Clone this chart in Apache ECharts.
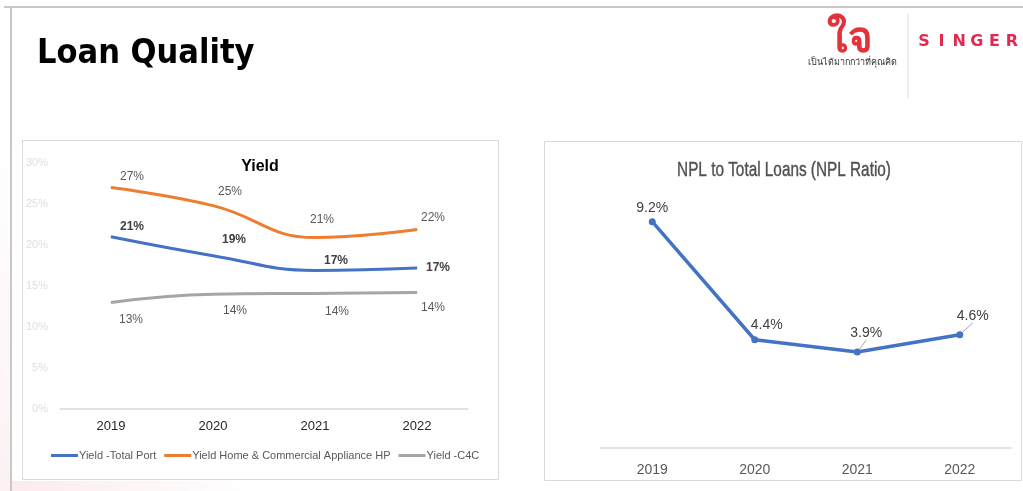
<!DOCTYPE html>
<html>
<head>
<meta charset="utf-8">
<title>Loan Quality</title>
<script src="https://cdn.jsdelivr.net/npm/echarts@6/dist/echarts.min.js"></script>
<style>
  html, body { margin: 0; padding: 0; background: #ffffff; }
  #chart { width: 1023px; height: 491px; }
</style>
</head>
<body>
<div id="chart"></div>
<script>
// Loan quality dashboard: yield by portfolio (left) and NPL ratio (right)
const years = ['2019', '2020', '2021', '2022'];

// Yield by portfolio, in percent
const yieldTotalPort = [21.0, 18.7, 16.9, 17.2];
const yieldHomeCommercialHP = [27.0, 24.8, 20.9, 21.9];
const yieldC4C = [13.0, 14.0, 14.1, 14.2];

// NPL to total loans, in percent
const nplRatio = [9.2, 4.4, 3.9, 4.6];

const yieldTicks = [0, 5, 10, 15, 20, 25, 30];

const SANS = '"Liberation Sans", Arial, sans-serif';
const BLUE = '#4472C4', ORANGE = '#ED7D31', GREY = '#A5A5A5';

// label offsets (label centre relative to the point) for each series
const offTotal = [[21, -10], [21, -16], [21, -10], [21, 0]];
const offHP = [[21, -11], [17, -14], [7, -18], [16, -12]];
const offC4C = [[20, 17], [22, 16], [22, 18], [16, 15]];
const offNpl = [[0, -14], [12, -15], [9, -19], [13, -19]];

function pct(v) { return Math.round(v) + '%'; }

function labelled(values, offsets, style) {
  return values.map((v, i) => ({
    value: v,
    label: Object.assign({ show: true, position: 'inside', offset: offsets[i],
      fontFamily: SANS, formatter: p => pct(p.value) }, style)
  }));
}

const chart = echarts.init(document.getElementById('chart'), null, { renderer: 'canvas' });

// brand word, one letter per evenly spaced cell
const singerLetters = 'SINGER'.split('').map((ch, i) => ({
  type: 'text', x: 924 + i * 17.6, y: 42,
  style: { text: ch, font: 'bold 16px "DejaVu Sans", sans-serif', fill: '#E02A52',
    textAlign: 'center', textVerticalAlign: 'middle' }
}));

const option = {
  backgroundColor: '#ffffff',
  animation: false,
  textStyle: { fontFamily: SANS },
  graphic: [
    // faint decorative band of the slide template
    { type: 'rect', shape: { x: 0, y: 140, width: 11, height: 351 },
      style: { fill: new echarts.graphic.LinearGradient(0, 0, 0, 1, [
        { offset: 0, color: 'rgba(235,120,130,0.0)' },
        { offset: 1, color: 'rgba(235,120,130,0.10)' }]) } },
    { type: 'rect', shape: { x: 11, y: 481, width: 240, height: 10 },
      style: { fill: new echarts.graphic.LinearGradient(0, 0, 1, 0, [
        { offset: 0, color: 'rgba(235,110,120,0.14)' },
        { offset: 1, color: 'rgba(235,110,120,0.0)' }]) } },
    // slide frame
    { type: 'line', shape: { x1: 4, y1: 7, x2: 1023, y2: 7 }, style: { stroke: '#c8c8c8', lineWidth: 2 } },
    { type: 'line', shape: { x1: 11, y1: 7, x2: 11, y2: 491 }, style: { stroke: '#c8c8c8', lineWidth: 2 } },
    // page title
    { type: 'text', x: 37, y: 54, style: { text: 'Loan Quality',
      font: 'bold 34px "DejaVu Sans Condensed", "DejaVu Sans", sans-serif', fill: '#000000',
      textVerticalAlign: 'middle' } },
    // brand mark
    { type: 'text', x: 850, y: 40, style: { text: 'ใจ', font: 'bold 42px sans-serif',
      fill: '#E4323C', textAlign: 'center', textVerticalAlign: 'middle' } },
    { type: 'text', x: 852, y: 63, style: { text: 'เป็นได้มากกว่าที่คุณคิด', font: '9px sans-serif',
      fill: '#333333', textAlign: 'center', textVerticalAlign: 'middle' } },
    { type: 'line', shape: { x1: 908, y1: 14, x2: 908, y2: 98 }, style: { stroke: '#dddddd', lineWidth: 1 } },
    ...singerLetters,
    // chart frames
    { type: 'rect', shape: { x: 22.5, y: 140.5, width: 476, height: 339 },
      style: { fill: 'none', stroke: '#d9d9d9', lineWidth: 1 } },
    { type: 'rect', shape: { x: 544.5, y: 141.5, width: 477, height: 339 },
      style: { fill: 'none', stroke: '#d9d9d9', lineWidth: 1 } },
    // chart titles
    { type: 'text', x: 260, y: 167, style: { text: 'Yield',
      font: 'bold 16px ' + SANS, fill: '#000000', textAlign: 'center', textVerticalAlign: 'middle' } },
    { type: 'text', x: 784, y: 170, scaleX: 0.73, style: { text: 'NPL to Total Loans (NPL Ratio)',
      font: '21px ' + SANS, fill: '#505050', textAlign: 'center', textVerticalAlign: 'middle',
      stroke: '#505050', lineWidth: 0.4 } }
  ],
  legend: {
    left: 51, top: 450, padding: 0, itemWidth: 27, itemHeight: 3, itemGap: 8,
    icon: 'rect',
    textStyle: { fontFamily: SANS, fontSize: 11, color: '#595959', padding: [0, 0, 0, -4] },
    data: ['Yield -Total Port', 'Yield Home & Commercial Appliance HP', 'Yield -C4C']
  },
  grid: [
    { left: 60, right: 555, top: 163, bottom: 82 },
    { left: 601, right: 12, top: 202, bottom: 43 }
  ],
  xAxis: [
    { type: 'category', gridIndex: 0, data: years, boundaryGap: true,
      axisLine: { lineStyle: { color: '#d9d9d9', width: 1.5 } }, axisTick: { show: false },
      axisLabel: { color: '#262626', fontSize: 13, margin: 11, fontFamily: SANS } },
    { type: 'category', gridIndex: 1, data: years, boundaryGap: true,
      axisLine: { lineStyle: { color: '#d9d9d9', width: 1.5 } }, axisTick: { show: false },
      axisLabel: { color: '#595959', fontSize: 14, margin: 15, fontFamily: SANS } }
  ],
  yAxis: [
    { type: 'value', gridIndex: 0, min: yieldTicks[0], max: yieldTicks[yieldTicks.length - 1],
      interval: yieldTicks[1] - yieldTicks[0],
      axisLine: { show: false }, axisTick: { show: false }, splitLine: { show: false },
      axisLabel: { formatter: '{value}%', color: '#dedede', fontSize: 11, margin: 12, fontFamily: SANS } },
    { type: 'value', gridIndex: 1, min: 0, max: 10, show: false, splitLine: { show: false } }
  ],
  series: [
    { name: 'Yield -Total Port', type: 'line', xAxisIndex: 0, yAxisIndex: 0,
      smooth: 0.45, symbol: 'circle', symbolSize: 1, color: BLUE,
      lineStyle: { width: 3, color: BLUE },
      data: labelled(yieldTotalPort, offTotal, { color: '#404040', fontWeight: 'bold', fontSize: 12 }) },
    { name: 'Yield Home & Commercial Appliance HP', type: 'line', xAxisIndex: 0, yAxisIndex: 0,
      smooth: 0.45, symbol: 'circle', symbolSize: 1, color: ORANGE,
      lineStyle: { width: 3, color: ORANGE },
      data: labelled(yieldHomeCommercialHP, offHP, { color: '#595959', fontSize: 12 }) },
    { name: 'Yield -C4C', type: 'line', xAxisIndex: 0, yAxisIndex: 0,
      smooth: 0.45, symbol: 'circle', symbolSize: 1, color: GREY,
      lineStyle: { width: 3, color: GREY },
      data: labelled(yieldC4C, offC4C, { color: '#595959', fontSize: 12 }) },
    { name: 'NPL Ratio', type: 'line', xAxisIndex: 1, yAxisIndex: 1,
      symbol: 'circle', symbolSize: 7, color: BLUE,
      lineStyle: { width: 3.5, color: BLUE },
      labelLine: { lineStyle: { color: '#a6a6a6', width: 1 } },
      data: nplRatio.map((v, i) => ({
        value: v,
        label: { show: true, position: 'inside', offset: offNpl[i], fontSize: 14,
          color: '#404040', fontFamily: SANS, formatter: p => p.value.toFixed(1) + '%' },
        labelLine: { show: i >= 2 }
      })) }
  ]
};

chart.setOption(option);
</script>
</body>
</html>
